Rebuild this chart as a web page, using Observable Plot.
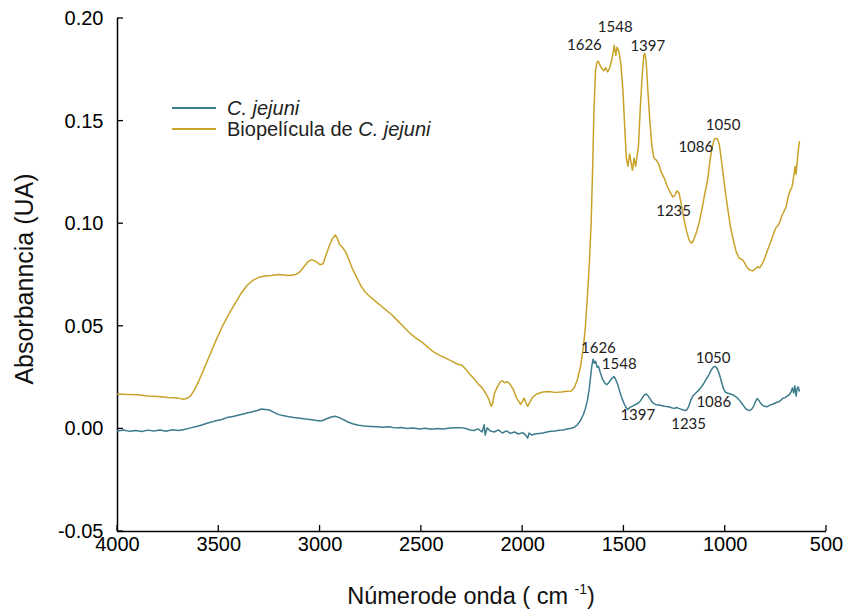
<!DOCTYPE html>
<html>
<head>
<meta charset="utf-8">
<script src="https://cdn.jsdelivr.net/npm/d3@7"></script>
<script src="https://cdn.jsdelivr.net/npm/@observablehq/plot@0.6"></script>
<style>
  html, body { margin: 0; padding: 0; background: #fff; }
  #chart svg { display: block; }
</style>
</head>
<body>
<div id="chart"></div>
<script>
// FTIR spectra: wavenumber (cm-1) and absorbance (UA)
const bioWn = [4000,3950,3900,3850,3800,3750,3700,3680,3660,3640,3620,3600,3570,3540,3510,3480,3450,3420,3390,3360,3330,3300,3270,3240,3210,3180,3150,3120,3100,3080,3060,3040,3020,3000,2985,2970,2955,2940,2925,2915,2905,2890,2875,2860,2840,2820,2800,2780,2760,2730,2700,2670,2650,2620,2590,2560,2530,2500,2470,2440,2410,2380,2350,2320,2300,2280,2260,2240,2220,2200,2180,2165,2155,2148,2140,2125,2110,2100,2090,2075,2060,2045,2030,2020,2010,2000,1993,1985,1975,1965,1950,1930,1900,1870,1840,1810,1780,1760,1745,1730,1715,1700,1690,1680,1670,1662,1655,1648,1640,1632,1626,1612,1600,1590,1580,1570,1560,1552,1548,1540,1534,1525,1515,1505,1495,1488,1480,1472,1465,1458,1450,1442,1435,1428,1420,1410,1402,1397,1390,1382,1372,1362,1352,1340,1328,1315,1300,1285,1270,1258,1248,1238,1228,1218,1205,1190,1178,1168,1158,1145,1130,1115,1100,1086,1075,1065,1055,1050,1040,1030,1020,1010,1000,990,975,960,945,930,915,905,895,880,865,850,840,830,820,810,795,780,765,750,740,730,720,710,700,690,680,670,662,655,650,645,640,634];
const bioAbs = [0.0170,0.0168,0.0166,0.0160,0.0158,0.0153,0.0150,0.0145,0.0148,0.0160,0.0190,0.0230,0.0300,0.0370,0.0440,0.0505,0.0560,0.0610,0.0660,0.0700,0.0725,0.0740,0.0745,0.0748,0.0752,0.0750,0.0748,0.0752,0.0765,0.0790,0.0815,0.0825,0.0815,0.0800,0.0805,0.0850,0.0890,0.0925,0.0945,0.0930,0.0900,0.0885,0.0865,0.0830,0.0780,0.0740,0.0700,0.0670,0.0650,0.0625,0.0600,0.0575,0.0560,0.0530,0.0500,0.0470,0.0445,0.0425,0.0400,0.0375,0.0358,0.0345,0.0330,0.0315,0.0310,0.0290,0.0265,0.0245,0.0220,0.0200,0.0170,0.0140,0.0110,0.0125,0.0170,0.0205,0.0230,0.0235,0.0225,0.0230,0.0215,0.0190,0.0150,0.0135,0.0120,0.0135,0.0150,0.0130,0.0110,0.0130,0.0155,0.0170,0.0180,0.0182,0.0178,0.0180,0.0183,0.0185,0.0200,0.0240,0.0300,0.0400,0.0500,0.0650,0.0820,0.1000,0.1250,0.1550,0.1750,0.1790,0.1790,0.1760,0.1745,0.1760,0.1740,0.1760,0.1800,0.1840,0.1870,0.1820,0.1860,0.1840,0.1780,0.1650,0.1450,0.1320,0.1280,0.1340,0.1300,0.1260,0.1320,0.1280,0.1330,0.1380,0.1550,0.1720,0.1820,0.1830,0.1790,0.1650,0.1500,0.1380,0.1320,0.1310,0.1290,0.1250,0.1220,0.1180,0.1150,0.1130,0.1140,0.1160,0.1150,0.1100,0.1030,0.0960,0.0920,0.0905,0.0915,0.0950,0.1000,0.1070,0.1150,0.1220,0.1310,0.1370,0.1410,0.1415,0.1415,0.1390,0.1320,0.1240,0.1160,0.1090,0.0990,0.0920,0.0860,0.0830,0.0825,0.0810,0.0790,0.0775,0.0770,0.0780,0.0790,0.0785,0.0800,0.0820,0.0860,0.0900,0.0940,0.0980,0.0990,0.1010,0.1040,0.1060,0.1080,0.1130,0.1160,0.1180,0.1230,0.1280,0.1240,0.1300,0.1350,0.1400];

const cjWn = [4000,3970,3940,3910,3880,3850,3820,3790,3760,3730,3700,3670,3640,3610,3580,3550,3520,3490,3460,3430,3400,3370,3340,3310,3290,3270,3250,3230,3210,3190,3160,3130,3100,3070,3040,3010,2990,2970,2945,2925,2905,2885,2865,2840,2810,2780,2750,2720,2690,2660,2630,2600,2570,2540,2510,2480,2450,2420,2390,2360,2330,2300,2280,2260,2240,2220,2200,2190,2185,2175,2160,2140,2120,2100,2080,2060,2040,2020,2000,1985,1975,1968,1955,1940,1920,1900,1880,1860,1840,1820,1800,1780,1760,1745,1730,1715,1700,1690,1680,1672,1665,1658,1652,1646,1640,1632,1626,1615,1605,1595,1585,1575,1565,1555,1548,1540,1530,1520,1510,1500,1490,1480,1470,1460,1450,1440,1430,1420,1410,1400,1390,1380,1370,1360,1350,1340,1320,1300,1280,1260,1250,1240,1230,1215,1200,1190,1180,1170,1160,1150,1140,1125,1110,1095,1080,1070,1060,1050,1040,1030,1020,1010,1000,990,975,960,945,930,915,900,890,880,870,860,850,842,835,825,815,805,795,785,775,765,755,745,735,725,715,705,695,685,675,668,662,656,650,645,640,634];
const cjAbs = [-0.0010,-0.0005,-0.0012,-0.0008,-0.0013,-0.0006,-0.0010,-0.0005,-0.0011,-0.0004,-0.0008,-0.0003,0.0005,0.0012,0.0020,0.0030,0.0038,0.0045,0.0055,0.0060,0.0068,0.0075,0.0082,0.0090,0.0097,0.0095,0.0092,0.0082,0.0072,0.0066,0.0060,0.0055,0.0052,0.0048,0.0045,0.0040,0.0040,0.0048,0.0058,0.0062,0.0055,0.0045,0.0035,0.0025,0.0018,0.0014,0.0012,0.0010,0.0008,0.0010,0.0005,0.0007,0.0002,0.0004,0.0000,0.0003,-0.0002,0.0002,0.0000,0.0004,0.0006,0.0005,0.0002,-0.0005,-0.0008,0.0000,-0.0015,0.0020,-0.0030,0.0005,-0.0010,-0.0015,-0.0005,-0.0020,-0.0010,-0.0022,-0.0015,-0.0025,-0.0018,-0.0030,-0.0045,-0.0020,-0.0030,-0.0025,-0.0022,-0.0020,-0.0015,-0.0012,-0.0010,-0.0007,-0.0005,0.0000,0.0003,0.0008,0.0020,0.0040,0.0070,0.0100,0.0140,0.0190,0.0250,0.0310,0.0340,0.0320,0.0330,0.0300,0.0305,0.0270,0.0240,0.0225,0.0215,0.0225,0.0240,0.0250,0.0255,0.0240,0.0215,0.0180,0.0150,0.0125,0.0105,0.0095,0.0105,0.0110,0.0115,0.0120,0.0125,0.0135,0.0150,0.0165,0.0170,0.0160,0.0145,0.0130,0.0122,0.0118,0.0115,0.0110,0.0108,0.0102,0.0100,0.0104,0.0100,0.0095,0.0090,0.0092,0.0110,0.0140,0.0160,0.0170,0.0180,0.0195,0.0215,0.0240,0.0265,0.0285,0.0300,0.0305,0.0295,0.0270,0.0235,0.0200,0.0180,0.0175,0.0170,0.0165,0.0155,0.0140,0.0120,0.0100,0.0092,0.0090,0.0095,0.0110,0.0135,0.0148,0.0140,0.0125,0.0115,0.0110,0.0108,0.0112,0.0118,0.0120,0.0125,0.0130,0.0132,0.0140,0.0150,0.0152,0.0160,0.0165,0.0180,0.0200,0.0175,0.0210,0.0160,0.0195,0.0205,0.0185];

// Band assignments marked on each spectrum
const bioPeaks = [1626, 1548, 1397, 1086, 1050, 1235];
const cjPeaks = [1626, 1548, 1397, 1235, 1050, 1086];

// Axes
const xTicks = [4000, 3500, 3000, 2500, 2000, 1500, 1000, 500];
const yTicks = [-0.05, 0.00, 0.05, 0.10, 0.15, 0.20];
const xDomain = [4000, 500];
const yDomain = [-0.05, 0.20];

const seriesNames = ["C. jejuni", "Biopelícula de C. jejuni"];
const colors = {"C. jejuni": "#3d7c8b", "Biopelícula de C. jejuni": "#c9a228"};

// Label placement offsets (px) relative to the band on the curve
const bioLabelOffsets = [[-14, -16], [1, -18], [3, -7], [-12, -31], [8, -13], [-4, 20]];
const cjLabelOffsets = [[0, -18], [5, -12], [-7, 20], [11, 16], [-2, -8], [6, 26]];

const bio = bioWn.map((w, i) => ({wn: w, abs: bioAbs[i], series: seriesNames[1]}));
const cj = cjWn.map((w, i) => ({wn: w, abs: cjAbs[i], series: seriesNames[0]}));

// absorbance at a given wavenumber, interpolated along a spectrum
function absAt(rows, w) {
  for (let i = 0; i < rows.length - 1; i++) {
    const a = rows[i], b = rows[i + 1];
    if ((a.wn - w) * (b.wn - w) <= 0) {
      const t = (a.wn - w) / (a.wn - b.wn || 1);
      return a.abs + t * (b.abs - a.abs);
    }
  }
  return rows[rows.length - 1].abs;
}

function peakLabels(rows, peaks, offsets) {
  return peaks.map((w, i) => Plot.text([w], {
    x: d => d,
    y: d => absAt(rows, d),
    text: d => String(d),
    dx: offsets[i][0],
    dy: offsets[i][1],
    fontSize: 15,
    fontFamily: "Lato, 'Open Sans', sans-serif",
    fill: "#222"
  }));
}

const chart = Plot.plot({
  width: 849,
  height: 613,
  marginLeft: 117,
  marginRight: 23,
  marginTop: 18,
  marginBottom: 82,
  style: {fontFamily: "'Liberation Sans', Arial, sans-serif", background: "#fff", color: "#000"},
  x: {domain: xDomain, label: null},
  y: {domain: yDomain, label: null},
  marks: [
    Plot.axisX(xTicks, {tickSize: 0, tickPadding: 5, fontSize: 20, tickFormat: d => String(d)}),
    Plot.axisY(yTicks, {tickSize: 0, tickPadding: 14, fontSize: 20, tickFormat: d => d.toFixed(2)}),
    Plot.ruleY([yDomain[0]], {stroke: "#000", strokeWidth: 1.5}),
    Plot.ruleX([xDomain[0]], {stroke: "#000", strokeWidth: 1.5}),
    Plot.line(bio, {x: "wn", y: "abs", stroke: colors[seriesNames[1]], strokeWidth: 1.5}),
    Plot.line(cj, {x: "wn", y: "abs", stroke: colors[seriesNames[0]], strokeWidth: 1.5}),
    ...peakLabels(bio, bioPeaks, bioLabelOffsets),
    ...peakLabels(cj, cjPeaks, cjLabelOffsets)
  ]
});

document.getElementById("chart").appendChild(chart);

const svg = d3.select(chart);
const font = "'Liberation Sans', Arial, sans-serif";
const sx = chart.scale("x"), sy = chart.scale("y");

// Inward tick marks on both axes, placed with the chart's own scales
const tickG = svg.append("g").attr("stroke", "#000").attr("stroke-width", 1.3);
xTicks.forEach(v => {
  const px = sx.apply(v), py = sy.apply(yDomain[0]);
  tickG.append("line").attr("x1", px).attr("x2", px).attr("y1", py).attr("y2", py - 6);
});
yTicks.forEach(v => {
  const px = sx.apply(xDomain[0]), py = sy.apply(v);
  tickG.append("line").attr("x1", px).attr("x2", px + 6).attr("y1", py).attr("y2", py);
});

// Axis titles
svg.append("text")
  .attr("transform", "translate(26,279) rotate(-90)")
  .attr("text-anchor", "middle")
  .attr("dominant-baseline", "middle")
  .attr("font-family", font)
  .attr("font-size", 25)
  .attr("fill", "#111")
  .text("Absorbanncia (UA)");

const xt = svg.append("text")
  .attr("x", 471)
  .attr("y", 604)
  .attr("text-anchor", "middle")
  .attr("font-family", font)
  .attr("font-size", 23.5)
  .attr("fill", "#111");
xt.append("tspan").text("Númerode onda ( cm ");
xt.append("tspan").attr("dy", -10).attr("font-size", 14).text("-1");
xt.append("tspan").attr("dy", 10).text(")");

// Legend
const legend = svg.append("g")
  .attr("font-family", font)
  .attr("font-size", 20)
  .attr("fill", "#222")
  .attr("text-anchor", "start");
const legendRows = [
  {name: seriesNames[0], y: 108, parts: [["C. jejuni", true]]},
  {name: seriesNames[1], y: 129, parts: [["Biopelícula de ", false], ["C. jejuni", true]]}
];
legendRows.forEach(r => {
  legend.append("line")
    .attr("x1", 172).attr("x2", 216)
    .attr("y1", r.y).attr("y2", r.y)
    .attr("stroke", colors[r.name]).attr("stroke-width", 1.8);
  const t = legend.append("text").attr("x", 227).attr("y", r.y).attr("dy", "0.35em");
  r.parts.forEach(([s, it]) => t.append("tspan").attr("font-style", it ? "italic" : "normal").text(s));
});
</script>
</body>
</html>
